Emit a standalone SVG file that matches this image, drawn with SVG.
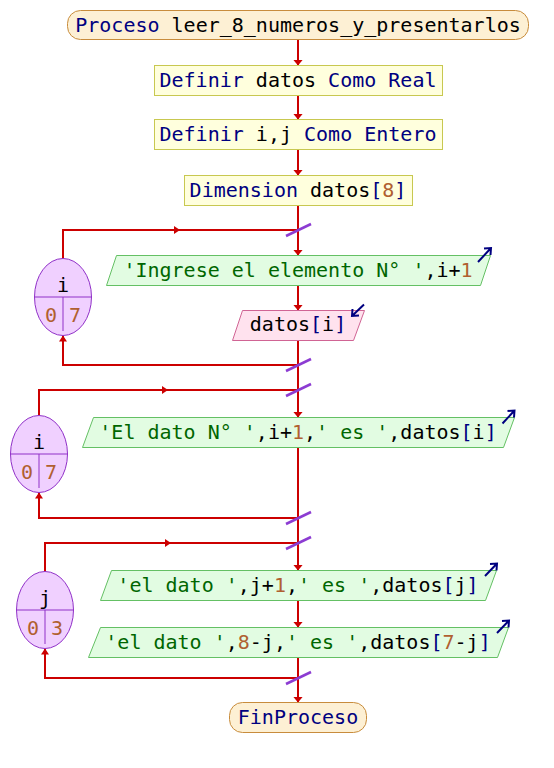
<svg xmlns="http://www.w3.org/2000/svg" width="554" height="768" viewBox="0 0 554 768">
  <style>
    text { font-family: "DejaVu Sans Mono", "Liberation Mono", monospace; font-size: 20px; fill: #000; white-space: pre; }
    .c { text-anchor: middle; }
    .k { fill: #000080; }
    .s { fill: #006600; }
    .n { fill: #b06030; }
    .term { fill: #fdf0d4; stroke: #c88c3c; stroke-width: 1; }
    .proc { fill: #ffffdd; stroke: #c8c850; stroke-width: 1; }
    .out { fill: #e2fce2; stroke: #64c064; stroke-width: 1; }
    .in { fill: #ffe2ee; stroke: #d06494; stroke-width: 1; }
    .loop { fill: #f0d0ff; stroke: #9030c8; stroke-width: 1; }
    .div { stroke: #9030c8; stroke-width: 1; fill: none; }
    .icon { stroke: #000080; stroke-width: 2; fill: none; }
    .flow { stroke: #cc0000; stroke-width: 2; fill: none; }
    .mark { stroke: #8c3cd2; stroke-width: 2.5; fill: none; }
  </style>
  <defs>
    <marker id="head" viewBox="0 0 6 10" refX="6" refY="5" markerWidth="6" markerHeight="10" markerUnits="userSpaceOnUse" orient="auto">
      <path d="M0,0 L6,5 L0,10 z" fill="#cc0000"/>
    </marker>
    <marker id="headSmall" viewBox="0 0 6 8" refX="6" refY="4" markerWidth="6" markerHeight="8" markerUnits="userSpaceOnUse" orient="auto">
      <path d="M0,0 L6,4 L0,8 z" fill="#cc0000"/>
    </marker>
  </defs>

  <!-- connectors -->
  <g id="connectors">
    <path class="flow" d="M298,40 V65.5" marker-end="url(#head)"/>
    <path class="flow" d="M298,95.5 V119.5" marker-end="url(#head)"/>
    <path class="flow" d="M298,149.5 V175.5" marker-end="url(#head)"/>
    <path class="flow" d="M298,205.5 V255.5" marker-end="url(#head)"/>
    <path class="flow" d="M298,285.5 V310.5" marker-end="url(#head)"/>
    <path class="flow" d="M298,340.5 V417.5" marker-end="url(#head)"/>
    <path class="flow" d="M298,447.5 V570.5" marker-end="url(#head)"/>
    <path class="flow" d="M298,600.5 V627.5" marker-end="url(#head)"/>
    <path class="flow" d="M298,657.5 V702.5" marker-end="url(#head)"/>

    <!-- loop over i (read) -->
    <path class="flow" d="M63,258.5 V230 H180" marker-end="url(#headSmall)"/>
    <path class="flow" d="M180,230 H298"/>
    <path class="flow" d="M298,365 H63 V335.5" marker-end="url(#headSmall)"/>
    <!-- loop over i (print) -->
    <path class="flow" d="M39,415.5 V390 H168" marker-end="url(#headSmall)"/>
    <path class="flow" d="M168,390 H298"/>
    <path class="flow" d="M298,518 H39 V492.5" marker-end="url(#headSmall)"/>
    <!-- loop over j -->
    <path class="flow" d="M45,571.5 V543 H171" marker-end="url(#headSmall)"/>
    <path class="flow" d="M171,543 H298"/>
    <path class="flow" d="M298,678 H45 V648.5" marker-end="url(#headSmall)"/>

    <!-- junction marks -->
    <path class="mark" d="M286,236 L311,224"/>
    <path class="mark" d="M286,371 L311,359"/>
    <path class="mark" d="M286,396 L311,384"/>
    <path class="mark" d="M286,524 L311,512"/>
    <path class="mark" d="M286,549 L311,537"/>
    <path class="mark" d="M286,684 L311,672"/>
  </g>

  <g id="start">
    <rect class="term" x="67.5" y="10.5" width="461" height="29" rx="13"/>
    <text class="c" x="298" y="31.5"><tspan class="k">Proceso</tspan> leer_8_numeros_y_presentarlos</text>
  </g>

  <g id="def-datos">
    <rect class="proc" x="154.5" y="65.5" width="288" height="30"/>
    <text class="c" x="298" y="86.5"><tspan class="k">Definir</tspan> datos <tspan class="k">Como</tspan> <tspan class="k">Real</tspan></text>
  </g>

  <g id="def-ij">
    <rect class="proc" x="154.5" y="119.5" width="288" height="30"/>
    <text class="c" x="298" y="141"><tspan class="k">Definir</tspan> i,j <tspan class="k">Como</tspan> <tspan class="k">Entero</tspan></text>
  </g>

  <g id="dim-datos">
    <rect class="proc" x="184.5" y="175.5" width="228" height="30"/>
    <text class="c" x="298" y="196.5"><tspan class="k">Dimension</tspan> datos<tspan class="k">[</tspan><tspan class="n">8</tspan><tspan class="k">]</tspan></text>
  </g>

  <g id="for-i-read">
    <ellipse class="loop" cx="63" cy="297" rx="28.5" ry="38.5"/>
    <path class="div" d="M34.5,297 H91.5 M63,297 V331"/>
    <text class="c" x="63" y="291.5">i</text>
    <text class="c n" x="51" y="322">0</text>
    <text class="c n" x="75" y="322">7</text>
  </g>

  <g id="write-prompt">
    <polygon class="out" points="116.5,255.5 490.5,255.5 480.5,285.5 106.5,285.5"/>
    <text class="c" x="298" y="276.5"><tspan class="s">'Ingrese el elemento N° '</tspan>,i+<tspan class="n">1</tspan></text>
    <path class="icon" d="M478,262 L491,248 M484,248.5 L491,248 L490.5,255"/>
  </g>

  <g id="read-datos">
    <polygon class="in" points="242.5,310.5 364.5,310.5 353.5,340.5 232.5,340.5"/>
    <text class="c" x="298" y="331"><tspan>datos</tspan><tspan class="k">[</tspan>i<tspan class="k">]</tspan></text>
    <path class="icon" d="M364,304.5 L352,316 M352.5,309 L352,316 L359,315.5"/>
  </g>

  <g id="for-i-print">
    <ellipse class="loop" cx="39" cy="454" rx="28.5" ry="38.5"/>
    <path class="div" d="M10.5,454 H67.5 M39,454 V488"/>
    <text class="c" x="39" y="449">i</text>
    <text class="c n" x="27" y="479">0</text>
    <text class="c n" x="51" y="479">7</text>
  </g>

  <g id="write-dato">
    <polygon class="out" points="93.5,417.5 514.5,417.5 503.5,447.5 82.5,447.5"/>
    <text class="c" x="298" y="438.5"><tspan class="s">'El dato N° '</tspan>,i+<tspan class="n">1</tspan>,<tspan class="s">' es '</tspan>,datos<tspan class="k">[</tspan>i<tspan class="k">]</tspan></text>
    <path class="icon" d="M502.5,423.5 L514.5,410.5 M507.5,411 L514.5,410.5 L514,417.5"/>
  </g>

  <g id="for-j">
    <ellipse class="loop" cx="45" cy="610" rx="28.5" ry="38.5"/>
    <path class="div" d="M16.5,610 H73.5 M45,610 V644"/>
    <text class="c" x="45" y="605">j</text>
    <text class="c n" x="33" y="635">0</text>
    <text class="c n" x="57" y="635">3</text>
  </g>

  <g id="write-front">
    <polygon class="out" points="111.5,570.5 496.5,570.5 485.5,600.5 100.5,600.5"/>
    <text class="c" x="298" y="591.5"><tspan class="s">'el dato '</tspan>,j+<tspan class="n">1</tspan>,<tspan class="s">' es '</tspan>,datos<tspan class="k">[</tspan>j<tspan class="k">]</tspan></text>
    <path class="icon" d="M485,576 L497,563.5 M490,564 L497,563.5 L496.5,570.5"/>
  </g>

  <g id="write-back">
    <polygon class="out" points="100.5,627.5 508.5,627.5 497.5,657.5 88.5,657.5"/>
    <text class="c" x="298" y="648.5"><tspan class="s">'el dato '</tspan>,<tspan class="n">8</tspan>-j,<tspan class="s">' es '</tspan>,datos<tspan class="k">[</tspan><tspan class="n">7</tspan>-j<tspan class="k">]</tspan></text>
    <path class="icon" d="M497,633 L509,620.5 M502,621 L509,620.5 L508.5,627.5"/>
  </g>

  <g id="end">
    <rect class="term" x="229.5" y="702.5" width="137" height="30" rx="13"/>
    <text class="c" x="298" y="723.5"><tspan class="k">FinProceso</tspan></text>
  </g>
</svg>
